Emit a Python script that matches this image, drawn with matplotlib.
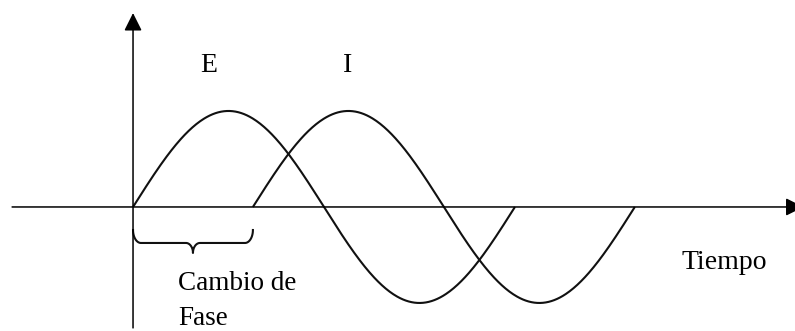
import numpy as np
from matplotlib import pyplot as plt

# datos de las ondas (grados, amplitud relativa)
periodo = 360.0
amplitud = 1.0
desfase = 113.0          # cambio de fase entre E e I
etiquetas = ['E', 'I']
inicios = [0.0, desfase]
pos_etiquetas = [71.6, 202.6]   # x de cada letra
texto_eje_x = 'Tiempo'
texto_brace = ['Cambio de', 'Fase']

plt.rcParams['font.family'] = ['Liberation Serif', 'DejaVu Serif']

fig = plt.figure(figsize=(7.95, 3.31), dpi=100)
ax = fig.add_axes([0, 0, 1, 1])
ax.set_xlim(-125.4, 624.0)
ax.set_ylim(-1.292, 2.156)
ax.axis('off')

# las dos ondas, un periodo cada una
for ini in inicios:
    t = np.linspace(ini, ini + periodo, 400)
    ax.plot(t, amplitud*np.sin(np.radians(t - ini)), color='#111111', lw=1.5,
            solid_capstyle='butt')

# ejes con flecha
flecha = dict(arrowstyle='-|>,head_length=0.4,head_width=0.2', mutation_scale=27,
              color='black', lw=1.1, shrinkA=0, shrinkB=0)
ax.annotate('', xy=(0, 2.02), xytext=(0, -1.26), arrowprops=flecha)
ax.annotate('', xy=(632, 0), xytext=(-114, 0), arrowprops=flecha,
            annotation_clip=False)

# etiquetas de las ondas
for lab, xl in zip(etiquetas, pos_etiquetas):
    ax.text(xl, 1.47, lab, fontsize=20, ha='center', va='center')

# llave del cambio de fase
arriba, plano, punta = -0.24, -0.375, -0.479
r, w = 7.5, 6.6
c = (inicios[0] + inicios[1]) / 2
s = np.linspace(0, np.pi/2, 30)
izq_x = inicios[0] + r - r*np.cos(s)
izq_y = arriba - (arriba - plano)*np.sin(s)
mid_x = c - w + w*np.sin(s)
mid_y = punta + (plano - punta)*np.cos(s)
bx = np.concatenate([izq_x, mid_x, (2*c - mid_x)[::-1], (2*c - izq_x)[::-1]])
by = np.concatenate([izq_y, mid_y, mid_y[::-1], izq_y[::-1]])
ax.plot(bx, by, color='#111111', lw=1.5)

ax.text(42.4, -0.865, texto_brace[0], fontsize=19.5, ha='left', va='baseline')
ax.text(42.4, -1.225, texto_brace[1], fontsize=19.5, ha='left', va='baseline')
ax.text(517.4, -0.646, texto_eje_x, fontsize=20, ha='left', va='baseline')

plt.savefig('out.png', dpi=100)
